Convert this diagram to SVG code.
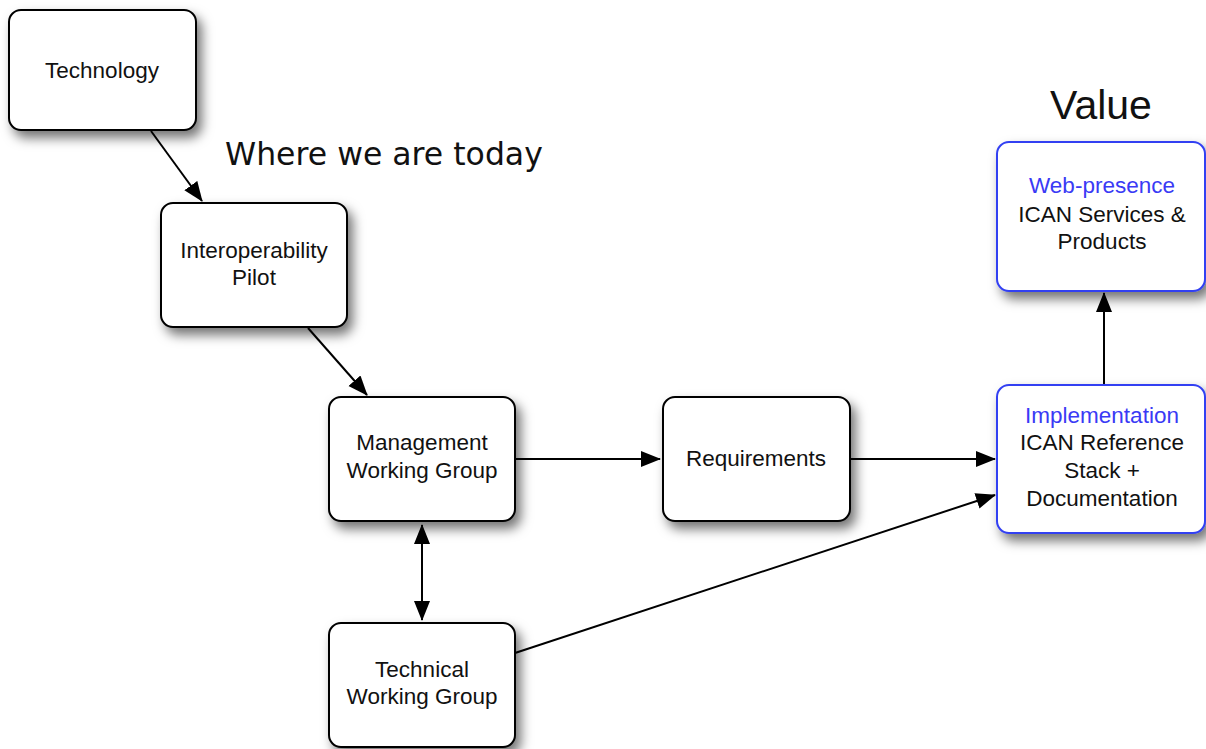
<svg xmlns="http://www.w3.org/2000/svg" width="1206" height="749" viewBox="0 0 1206 749">
<style>
.box{fill:#fff;stroke:#000;stroke-width:2;filter:url(#sh)}
.bbox{fill:#fff;stroke:#3340f2;stroke-width:2;filter:url(#sh)}
.t{font-family:"Liberation Sans",Arial,sans-serif;font-size:22.5px;fill:#111;text-anchor:middle}
.blue{fill:#3a3af5}
.c{stroke:#000;stroke-width:2;fill:none;marker-end:url(#ah)}
</style>
<defs>
<filter id="sh" x="-20%" y="-20%" width="150%" height="150%">
<feDropShadow dx="5" dy="7" stdDeviation="6" flood-color="#000" flood-opacity="0.55"/>
</filter>
<marker id="ah" markerUnits="userSpaceOnUse" markerWidth="22" markerHeight="18" refX="19" refY="8" orient="auto-start-reverse">
<path d="M0,0 L20,8 L0,16 z" fill="#000"/>
</marker>
</defs>
<rect width="1206" height="749" fill="#fff"/>
<g id="connectors">
<line class="c" x1="151" y1="131" x2="202" y2="201"/>
<line class="c" x1="308" y1="328" x2="367" y2="395"/>
<line class="c" x1="515" y1="459" x2="660" y2="459"/>
<line class="c" x1="850" y1="459" x2="995" y2="459"/>
<line class="c" x1="515" y1="653" x2="995" y2="495"/>
<line class="c" x1="422" y1="525" x2="422" y2="620" marker-start="url(#ah)"/>
<line class="c" x1="1104" y1="385" x2="1104" y2="293"/>
</g>
<g id="technology">
<rect class="box" x="9" y="10" width="187" height="120" rx="12"/>
<text class="t" x="102" y="78">Technology</text>
</g>
<g id="interop">
<rect class="box" x="161" y="203" width="186" height="124" rx="12"/>
<text class="t" x="254" y="258">Interoperability</text>
<text class="t" x="254" y="285">Pilot</text>
</g>
<g id="management">
<rect class="box" x="329" y="397" width="186" height="124" rx="12"/>
<text class="t" x="422" y="450">Management</text>
<text class="t" x="422" y="478">Working Group</text>
</g>
<g id="requirements">
<rect class="box" x="663" y="397" width="187" height="124" rx="12"/>
<text class="t" x="756" y="466">Requirements</text>
</g>
<g id="technical">
<rect class="box" x="329" y="623" width="186" height="124" rx="12"/>
<text class="t" x="422" y="677">Technical</text>
<text class="t" x="422" y="704">Working Group</text>
</g>
<g id="implementation">
<rect class="bbox" x="997" y="385" width="208" height="148" rx="12"/>
<text class="t blue" x="1102" y="423">Implementation</text>
<text class="t" x="1102" y="450">ICAN Reference</text>
<text class="t" x="1102" y="478">Stack +</text>
<text class="t" x="1102" y="506">Documentation</text>
</g>
<g id="webpresence">
<rect class="bbox" x="997" y="142" width="208" height="149" rx="12"/>
<text class="t blue" x="1102" y="193">Web-presence</text>
<text class="t" x="1102" y="222">ICAN Services &amp;</text>
<text class="t" x="1102" y="249">Products</text>
</g>
<g id="labels">
<text x="225" y="165" font-family="DejaVu Sans,Verdana,sans-serif" font-size="31.5" fill="#111">Where we are today</text>
<text x="1101" y="119" font-family="Liberation Sans,Arial,sans-serif" font-size="41" fill="#111" text-anchor="middle">Value</text>
</g>
</svg>
